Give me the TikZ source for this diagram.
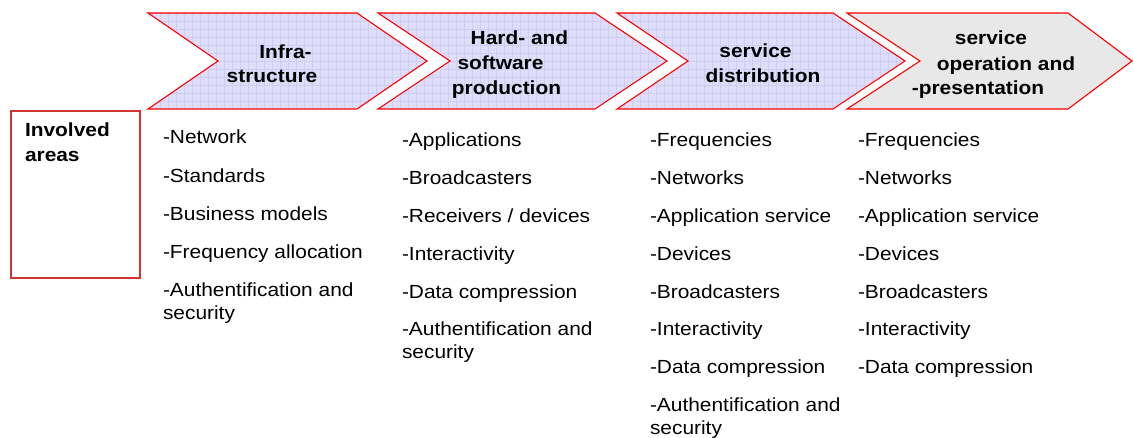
\documentclass[tikz,border=0pt]{standalone}
\usepackage{fontspec}
\setmainfont{Liberation Sans}[FakeStretch=1.1]

\definecolor{chevfill}{RGB}{222,222,251}
\definecolor{chevgrid}{RGB}{206,206,245}
\definecolor{lastfill}{RGB}{232,232,232}
\definecolor{boxred}{RGB}{208,52,52}

% chevron outline: left edge, top-right corner, tip, notch
\newcommand{\chevpath}[4]{(#1,13) -- (#2,13) -- (#3,61) -- (#2,109) -- (#1,109) -- (#4,61) -- cycle}
\newcommand{\twolines}[2]{\begin{tabular}[t]{@{}l@{}}#1\\#2\end{tabular}}

\begin{document}
\begin{tikzpicture}[x=1pt,y=-1pt,
  every node/.style={inner sep=0pt,outer sep=0pt},
  item/.style={anchor=base west,font=\fontsize{19}{23}\selectfont},
  title/.style={anchor=base,font=\fontsize{19}{23}\selectfont\bfseries},
  outline/.style={draw=red,line width=1.1pt,line join=miter},
  gridline/.style={draw=chevgrid,line width=0.5pt}]
\useasboundingbox (0,0) rectangle (1133,438);

% patterned chevrons
\foreach \l/\r/\t/\n in {148/357/427/218, 378/595/667/450, 617/833/905/688}{
  \begin{scope}
    \clip \chevpath{\l}{\r}{\t}{\n};
    \fill[chevfill] (\l,0) rectangle (\t,120);
    \foreach \gx in {144,152,...,912} \draw[gridline] (\gx,0) -- (\gx,120);
    \foreach \gy in {5,13,...,117} \draw[gridline] (\l,\gy) -- (\t,\gy);
  \end{scope}
  \draw[outline] \chevpath{\l}{\r}{\t}{\n};
}
% last chevron, plain grey
\fill[lastfill] \chevpath{847}{1068}{1132}{920};
\draw[outline] \chevpath{847}{1068}{1132}{920};

% chevron titles
\node[title] (t1a) at (285.5,59) {Infra-};
\node[title] (t1b) at (272,83) {structure};
\node[title] (t2a) at (519.5,45) {Hard- and};
\node[title] (t2b) at (500.5,70) {software};
\node[title] (t2c) at (506.5,95) {production};
\node[title] (t3a) at (755.5,58) {service};
\node[title] (t3b) at (763,83) {distribution};
\node[title] (t4a) at (991,45) {service};
\node[title] (t4b) at (1006,71) {operation and};
\node[title] (t4c) at (978,95) {-presentation};

% row label box
\node[draw=boxred,line width=1.1pt,anchor=north west,minimum width=129pt,minimum height=167pt] (areas) at (11,111) {};
\node[anchor=base west,font=\fontsize{19}{25}\selectfont\bfseries] (areaslabel) at (25,137)
  {\begin{tabular}[t]{@{}l@{}}Involved\\areas\end{tabular}};

% item lists
\foreach \txt [count=\i] in {-Network,-Standards,-Business models,-Frequency allocation,
    {\twolines{-Authentification and}{security}}}
  \node[item] (c1-\i) at (163,{144+38.2*(\i-1)}) {\txt};
\foreach \txt [count=\i] in {-Applications,-Broadcasters,-Receivers / devices,-Interactivity,
    -Data compression,{\twolines{-Authentification and}{security}}}
  \node[item] (c2-\i) at (402,{147+37.8*(\i-1)}) {\txt};
\foreach \txt [count=\i] in {-Frequencies,-Networks,-Application service,-Devices,-Broadcasters,
    -Interactivity,-Data compression,{\twolines{-Authentification and}{security}}}
  \node[item] (c3-\i) at (650,{147+37.8*(\i-1)}) {\txt};
\foreach \txt [count=\i] in {-Frequencies,-Networks,-Application service,-Devices,-Broadcasters,
    -Interactivity,-Data compression}
  \node[item] (c4-\i) at (858,{147+37.8*(\i-1)}) {\txt};
\end{tikzpicture}
\end{document}
